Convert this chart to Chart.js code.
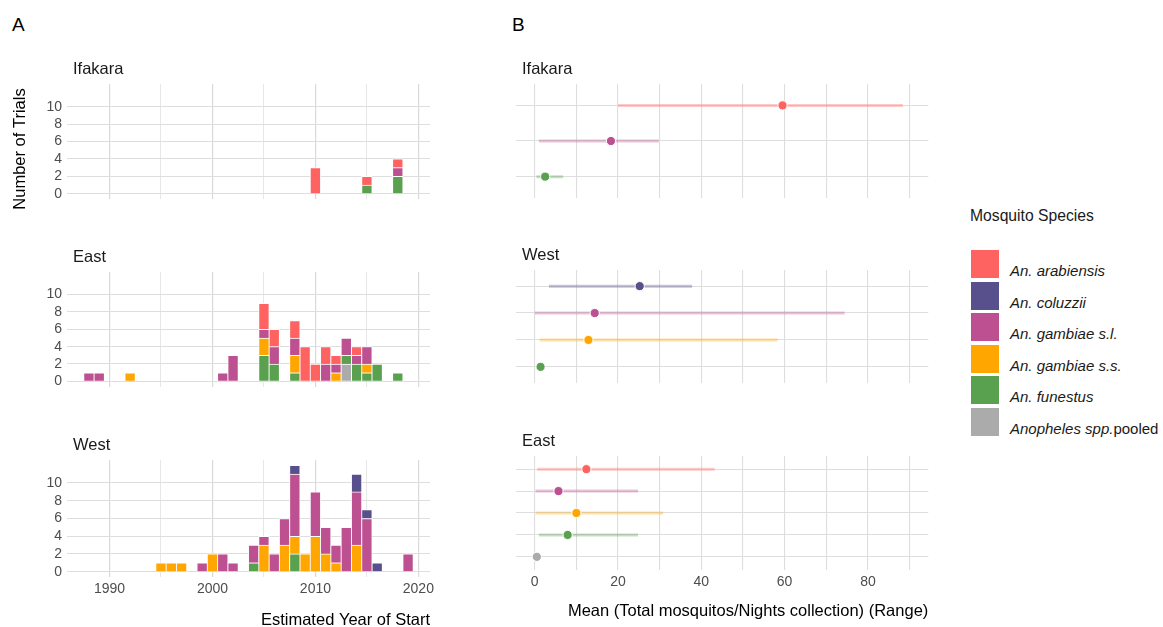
<!DOCTYPE html>
<html>
<head>
<meta charset="utf-8">
<script src="https://cdn.jsdelivr.net/npm/chart.js@4.4.1/dist/chart.umd.min.js"></script>
<style>
  body { margin: 0; background: #fff; font-family: "Liberation Sans", Arial, sans-serif; }
  #page { position: relative; width: 1163px; height: 627px; overflow: hidden; }
  .box { position: absolute; }
  .tag { position: absolute; font-size: 19px; color: #000; line-height: 24px; }
  #legend { position: absolute; left: 970px; top: 200px; width: 190px; height: 260px; }
  #legend .lg-title { position: absolute; left: 0; top: 6px; font-size: 15.7px; color: #1a1a1a; line-height: 20px; white-space: nowrap; }
  #legend .sw { position: absolute; left: 1px; width: 28px; height: 28px; }
  #legend .lb { position: absolute; left: 40px; font-size: 15px; color: #1a1a1a; line-height: 18px; white-space: nowrap; }
  #legend .lb i { font-style: italic; }
</style>
</head>
<body>
<div id="page">
  <div class="tag" style="left:12px;top:13px">A</div>
  <div class="tag" style="left:512px;top:13px">B</div>

  <div class="box" style="left:0;top:40px;width:440px;height:180px"><canvas id="bar-ifakara"></canvas></div>
  <div class="box" style="left:0;top:230px;width:440px;height:170px"><canvas id="bar-east"></canvas></div>
  <div class="box" style="left:0;top:420px;width:440px;height:207px"><canvas id="bar-west"></canvas></div>

  <div class="box" style="left:500px;top:40px;width:440px;height:170px"><canvas id="range-ifakara"></canvas></div>
  <div class="box" style="left:500px;top:230px;width:440px;height:165px"><canvas id="range-west"></canvas></div>
  <div class="box" style="left:500px;top:420px;width:440px;height:207px"><canvas id="range-east"></canvas></div>

  <div id="legend"></div>
</div>

<script>
// species, in legend order
const speciesItalic = ["An. arabiensis", "An. coluzzii", "An. gambiae s.l.", "An. gambiae s.s.", "An. funestus", "Anopheles spp."];
const speciesPlain = ["", "", "", "", "", "pooled"];
const speciesColors = ["#FF6361", "#58508D", "#BC5090", "#FFA600", "#59A14F", "#ABABAB"];

// panel A: [year, trials] per species
const ifakaraArabiensis = [[2010, 3], [2015, 1], [2018, 1]];
const ifakaraGambiaeSL = [[2018, 1]];
const ifakaraFunestus = [[2015, 1], [2018, 2]];

const eastArabiensis = [[2005, 3], [2006, 2], [2008, 2], [2009, 4], [2010, 2], [2011, 2], [2012, 1], [2014, 1]];
const eastGambiaeSL = [[1988, 1], [1989, 1], [2001, 1], [2002, 3], [2005, 1], [2006, 2], [2008, 2], [2011, 2], [2012, 1], [2013, 2], [2014, 1], [2015, 2]];
const eastGambiaeSS = [[1992, 1], [2005, 2], [2008, 2], [2012, 1], [2015, 1]];
const eastFunestus = [[2005, 3], [2006, 2], [2008, 1], [2013, 1], [2014, 2], [2015, 1], [2016, 2], [2018, 1]];
const eastPooled = [[2013, 2]];

const westColuzzii = [[2008, 1], [2014, 2], [2015, 1], [2016, 1]];
const westGambiaeSL = [[1999, 1], [2001, 2], [2002, 1], [2004, 2], [2005, 1], [2006, 2], [2007, 3], [2008, 7], [2010, 5], [2011, 3], [2012, 2], [2013, 5], [2014, 6], [2015, 6], [2019, 2]];
const westGambiaeSS = [[1995, 1], [1996, 1], [1997, 1], [2000, 2], [2005, 3], [2007, 3], [2008, 2], [2009, 2], [2010, 4], [2011, 2], [2012, 1], [2014, 3]];
const westFunestus = [[2004, 1], [2008, 2]];

const trialTicks = [0, 2, 4, 6, 8, 10];
const yearTicks = [1990, 1995, 2000, 2005, 2010, 2015, 2020];
const yearLabels = [1990, 2000, 2010, 2020];

// panel B: rows top to bottom (species index), mean and range
const ifakaraRows = [0, 2, 4];
const ifakaraMean = [59.5, 18.3, 2.5];
const ifakaraLow = [20.0, 1.0, 0.4];
const ifakaraHigh = [88.4, 29.8, 6.8];

const westRows = [1, 2, 3, 4];
const westMean = [25.2, 14.4, 12.9, 1.4];
const westLow = [3.4, 0.0, 1.2, 1.1];
const westHigh = [37.8, 74.4, 58.3, 1.7];

const eastRows = [0, 2, 3, 4, 5];
const eastMean = [12.4, 5.7, 10.0, 7.9, 0.5];
const eastLow = [0.6, 0.2, 0.2, 1.0, 0.3];
const eastHigh = [43.2, 24.8, 30.8, 24.8, 0.7];

const meanTicks = [0, 10, 20, 30, 40, 50, 60, 70, 80, 90];
const meanLabels = [0, 20, 40, 60, 80];

Chart.defaults.font.family = '"Liberation Sans", Arial, sans-serif';
Chart.defaults.animation = false;

const gridColor = "#DEDEDE";
const tickColor = "#4D4D4D";

const rgba = (hex, a) => {
  const n = parseInt(hex.slice(1), 16);
  return `rgba(${n >> 16},${(n >> 8) & 255},${n & 255},${a})`;
};

// facet titles + axis titles drawn next to the plot area
const panelText = {
  id: "panelText",
  afterDraw(chart, args, opts) {
    const {ctx, chartArea} = chart;
    ctx.save();
    ctx.textBaseline = "middle";
    ctx.fillStyle = "#1a1a1a";
    ctx.font = '16.5px "Liberation Sans", Arial, sans-serif';
    if (opts.facet) {
      ctx.textAlign = "left";
      ctx.fillText(opts.facet, chartArea.left + 6, chartArea.top - 15);
    }
    if (opts.xTitle) {
      ctx.textAlign = "right";
      ctx.fillStyle = "#000";
      ctx.fillText(opts.xTitle, chartArea.right, chartArea.bottom + opts.xTitleGap);
    }
    if (opts.yTitle) {
      ctx.fillStyle = "#000";
      ctx.translate(opts.yTitleX, opts.yTitleY);
      ctx.rotate(-Math.PI / 2);
      ctx.textAlign = "center";
      ctx.fillText(opts.yTitle, 0, 0);
    }
    ctx.restore();
  }
};

const stackOrder = [5, 4, 3, 2, 1, 0]; // bottom of the stack first

const barChart = (id, series, text, padding, bottom) => {
  const datasets = stackOrder.filter(s => series[s].length > 0).map(s => ({
    label: speciesItalic[s] + speciesPlain[s],
    data: series[s].map(d => ({x: d[0], y: d[1]})),
    backgroundColor: speciesColors[s],
    borderColor: "#fff",
    borderWidth: {top: 1, right: 0.8, bottom: 0, left: 0.8},
    borderSkipped: false,
    barThickness: 10.3
  }));

  new Chart(document.getElementById(id), {
    type: "bar",
    data: {datasets},
    options: {
      responsive: true,
      maintainAspectRatio: false,
      layout: {padding},
      plugins: {legend: {display: false}, tooltip: {enabled: false}, panelText: text},
      scales: {
        x: {
          type: "linear",
          stacked: true,
          offset: false,
          min: 1985.87,
          max: 2021.13,
          afterBuildTicks: s => { s.ticks = yearTicks.map(v => ({value: v})); },
          afterFit: s => { s.height = bottom ? 50 : 0; },
          border: {display: false},
          grid: {
            offset: false,
            drawTicks: false,
            color: c => (c.tick && c.tick.value % 10 === 0) ? "#D9D9D9" : "#E4E4E4",
            lineWidth: c => (c.tick && c.tick.value % 10 === 0) ? 1.2 : 0.9
          },
          ticks: {
            display: bottom,
            autoSkip: false,
            maxRotation: 0,
            padding: 4,
            color: tickColor,
            font: {size: 14},
            callback: v => yearLabels.includes(v) ? String(v) : ""
          }
        },
        y: {
          stacked: true,
          min: -0.6,
          max: 12.6,
          afterBuildTicks: s => { s.ticks = trialTicks.map(v => ({value: v})); },
          afterFit: s => { s.width = 67; },
          border: {display: false},
          grid: {drawTicks: false, color: gridColor, lineWidth: 1.1},
          ticks: {padding: 5, color: tickColor, font: {size: 14}}
        }
      }
    },
    plugins: [panelText]
  });
};

const rangeChart = (id, rows, means, lows, highs, text, padding, bottom) => {
  const datasets = [{
    label: "mean",
    data: means.map((m, i) => ({x: m, y: i + 1})),
    pointRadius: 4.6,
    pointBackgroundColor: rows.map(s => speciesColors[s]),
    pointBorderColor: "#fff",
    pointBorderWidth: 1
  }];
  rows.forEach((s, i) => {
    datasets.push({
      label: speciesItalic[s] + speciesPlain[s],
      data: [{x: lows[i], y: i + 1}, {x: highs[i], y: i + 1}],
      showLine: true,
      borderColor: rgba(speciesColors[s], 0.35),
      borderWidth: 3,
      pointRadius: 0
    });
  });

  new Chart(document.getElementById(id), {
    type: "scatter",
    data: {datasets},
    options: {
      responsive: true,
      maintainAspectRatio: false,
      layout: {padding},
      plugins: {legend: {display: false}, tooltip: {enabled: false}, panelText: text},
      scales: {
        x: {
          type: "linear",
          min: -4.5,
          max: 94.5,
          afterBuildTicks: s => { s.ticks = meanTicks.map(v => ({value: v})); },
          afterFit: s => { s.height = bottom ? 57 : 0; },
          border: {display: false},
          grid: {drawTicks: false, color: gridColor, lineWidth: 1.1},
          ticks: {
            display: bottom,
            autoSkip: false,
            maxRotation: 0,
            padding: 4,
            color: tickColor,
            font: {size: 14},
            callback: v => meanLabels.includes(v) ? String(v) : ""
          }
        },
        y: {
          type: "linear",
          reverse: true,
          min: 0.4,
          max: rows.length + 0.6,
          afterBuildTicks: s => { s.ticks = rows.map((r, i) => ({value: i + 1})); },
          afterFit: s => { s.width = 16; },
          border: {display: false},
          grid: {drawTicks: false, color: gridColor, lineWidth: 1.1},
          ticks: {display: false}
        }
      }
    },
    plugins: [panelText]
  });
};

barChart("bar-ifakara",
  [ifakaraArabiensis, [], ifakaraGambiaeSL, [], ifakaraFunestus, []],
  {facet: "Ifakara", yTitle: "Number of Trials", yTitleX: 20, yTitleY: 109},
  {top: 44, right: 10, bottom: 21, left: 0}, false);

barChart("bar-east",
  [eastArabiensis, [], eastGambiaeSL, eastGambiaeSS, eastFunestus, eastPooled],
  {facet: "East"},
  {top: 42, right: 10, bottom: 11.4, left: 0}, false);

barChart("bar-west",
  [[], westColuzzii, westGambiaeSL, westGambiaeSS, westFunestus, []],
  {facet: "West", xTitle: "Estimated Year of Start", xTitleGap: 43},
  {top: 40, right: 10, bottom: 0, left: 0}, true);

rangeChart("range-ifakara", ifakaraRows, ifakaraMean, ifakaraLow, ifakaraHigh,
  {facet: "Ifakara"},
  {top: 44, right: 11.7, bottom: 12, left: 0}, false);

rangeChart("range-west", westRows, westMean, westLow, westHigh,
  {facet: "West"},
  {top: 40, right: 11.7, bottom: 12, left: 0}, false);

rangeChart("range-east", eastRows, eastMean, eastLow, eastHigh,
  {facet: "East", xTitle: "Mean (Total mosquitos/Nights collection) (Range)", xTitleGap: 41},
  {top: 36, right: 11.7, bottom: 0, left: 0}, true);

// legend
const legend = document.getElementById("legend");
legend.innerHTML = `<div class="lg-title">Mosquito Species</div>` +
  speciesItalic.map((name, i) => `
    <div class="sw" style="top:${50 + i * 31.5}px;background:${speciesColors[i]}"></div>
    <div class="lb" style="top:${62 + i * 31.5}px"><i>${name}</i>${speciesPlain[i]}</div>`).join("");
</script>
</body>
</html>
